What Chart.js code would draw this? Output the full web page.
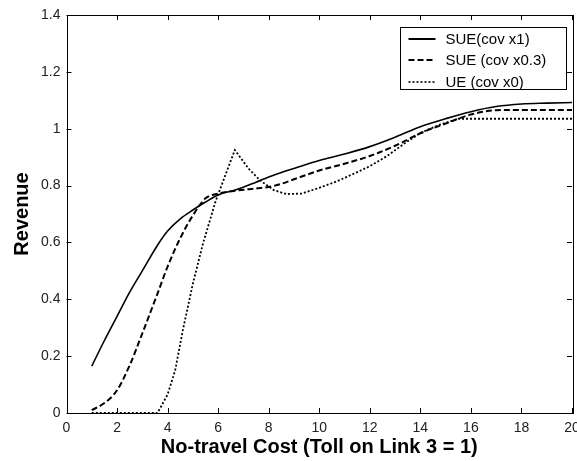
<!DOCTYPE html>
<html>
<head>
<meta charset="utf-8">
<script src="https://cdn.jsdelivr.net/npm/chart.js@4/dist/chart.umd.min.js"></script>
<style>
  html, body { margin: 0; padding: 0; background: #fff; overflow: hidden; }
  #wrap { width: 590px; height: 461px; }
</style>
</head>
<body>
<div id="wrap"><canvas id="c" width="590" height="461"></canvas></div>
<script>
// No-travel cost values (x axis) for the two SUE runs
const costs = [1, 1.5, 2, 2.5, 3, 3.6, 4, 4.5, 5, 5.5, 6, 6.7, 7.5, 8, 8.5, 9, 10, 11, 12, 13, 14, 15, 16, 17, 18, 19, 20];

// Revenue for the SUE runs
const sueCov1 = [0.165, 0.255, 0.34, 0.425, 0.50, 0.59, 0.64, 0.683, 0.714, 0.742, 0.767, 0.785, 0.812, 0.83, 0.846, 0.86, 0.888, 0.911, 0.937, 0.97, 1.007, 1.035, 1.06, 1.078, 1.087, 1.09, 1.092];
const sueCov03 = [0.01, 0.035, 0.08, 0.168, 0.28, 0.42, 0.515, 0.615, 0.695, 0.755, 0.772, 0.782, 0.79, 0.795, 0.806, 0.822, 0.853, 0.877, 0.904, 0.94, 0.984, 1.018, 1.05, 1.065, 1.066, 1.066, 1.066];

// Deterministic UE run, sampled on its own cost grid
const ueCosts = [1, 3.6, 4.0, 4.3, 4.6, 5.0, 5.4, 5.9, 6.3, 6.66, 7.2, 7.65, 8.2, 8.7, 9.3, 10, 10.7, 11.4, 12, 12.7, 13.4, 14, 14.7, 15.5, 20];
const ueCov0 = [0, 0, 0.065, 0.15, 0.29, 0.455, 0.596, 0.745, 0.84, 0.925, 0.86, 0.819, 0.784, 0.77, 0.772, 0.792, 0.815, 0.843, 0.868, 0.905, 0.95, 0.985, 1.012, 1.035, 1.035];

const seriesNames = ['SUE(cov x1)', 'SUE (cov x0.3)', 'UE (cov x0)'];

// Axis ranges and tick spacing
const xRange = [0, 20], xStep = 2;
const yRange = [0, 1.4], yStep = 0.2;

const toPoints = (xs, ys) => xs.map((x, i) => ({ x: x, y: ys[i] }));

const tickFont = { family: "'Liberation Sans Narrow', 'Liberation Sans', Arial, sans-serif", size: 14 };
const titleFont = { family: "'Liberation Sans', Arial, sans-serif", size: 20, weight: 'bold' };

// Boxed frame with inward tick marks on all four sides
const frameTicks = {
  id: 'frameTicks',
  afterDatasetsDraw(chart) {
    const { ctx, chartArea: a, scales } = chart;
    const len = 5;
    ctx.save();
    ctx.strokeStyle = '#000';
    ctx.lineWidth = 1;
    ctx.beginPath();
    scales.x.ticks.forEach(t => {
      const px = Math.round(scales.x.getPixelForValue(t.value)) + 0.5;
      ctx.moveTo(px, a.bottom); ctx.lineTo(px, a.bottom - len);
      ctx.moveTo(px, a.top); ctx.lineTo(px, a.top + len);
    });
    scales.y.ticks.forEach(t => {
      const py = Math.round(scales.y.getPixelForValue(t.value)) + 0.5;
      ctx.moveTo(a.left, py); ctx.lineTo(a.left + len, py);
      ctx.moveTo(a.right, py); ctx.lineTo(a.right - len, py);
    });
    ctx.stroke();
    ctx.strokeRect(Math.round(a.left) + 0.5, Math.round(a.top) + 0.5,
                   Math.round(a.right - a.left), Math.round(a.bottom - a.top));
    ctx.restore();
  }
};

// Boxed legend in the upper right of the plot area
const boxLegend = {
  id: 'boxLegend',
  afterDraw(chart) {
    const { ctx, chartArea: a } = chart;
    const w = 166, h = 62;
    const left = Math.round(a.right - 6 - w) + 0.5;
    const top = Math.round(a.top + 12) + 0.5;
    ctx.save();
    ctx.fillStyle = '#fff';
    ctx.fillRect(left, top, w, h);
    ctx.strokeStyle = '#000';
    ctx.lineWidth = 1;
    ctx.strokeRect(left, top, w, h);
    const rows = [11, 32.5, 54.5];
    chart.data.datasets.forEach((ds, i) => {
      const y = Math.round(top + rows[i]);
      ctx.beginPath();
      ctx.setLineDash(ds.borderDash || []);
      ctx.lineWidth = ds.legendWidth;
      ctx.strokeStyle = '#000';
      ctx.moveTo(left + 8, y); ctx.lineTo(left + 35, y);
      ctx.stroke();
      ctx.setLineDash([]);
      ctx.fillStyle = '#000';
      ctx.font = "15px 'Liberation Sans', Arial, sans-serif";
      ctx.textBaseline = 'middle';
      ctx.textAlign = 'left';
      ctx.fillText(ds.label, left + 45, y + 1);
    });
    ctx.restore();
  }
};

new Chart(document.getElementById('c'), {
  type: 'line',
  data: {
    datasets: [
      { label: seriesNames[0], data: toPoints(costs, sueCov1), borderColor: '#000', borderWidth: 1.6, legendWidth: 2,
        cubicInterpolationMode: 'monotone' },
      { label: seriesNames[1], data: toPoints(costs, sueCov03), borderColor: '#000', borderWidth: 2, borderDash: [6, 3], legendWidth: 2,
        cubicInterpolationMode: 'monotone' },
      { label: seriesNames[2], data: toPoints(ueCosts, ueCov0), borderColor: '#000', borderWidth: 1.8, borderDash: [2, 2], legendWidth: 1.6,
        tension: 0 }
    ]
  },
  options: {
    responsive: false,
    animation: false,
    devicePixelRatio: 1,
    layout: { padding: { left: 0, top: 15, right: 18, bottom: 0 } },
    elements: {
      point: { radius: 0, hoverRadius: 0 },
      line: { fill: false }
    },
    plugins: { legend: { display: false }, tooltip: { enabled: false } },
    scales: {
      x: {
        type: 'linear', min: xRange[0], max: xRange[1],
        ticks: { stepSize: xStep, color: '#222', font: tickFont, padding: 7, maxRotation: 0 },
        grid: { drawOnChartArea: false, drawTicks: false },
        border: { display: false },
        title: { display: true, text: 'No-travel Cost (Toll on Link 3 = 1)', color: '#000', font: titleFont, padding: { top: 0, bottom: 2 } },
        afterFit(s) { s.height = 48; }
      },
      y: {
        type: 'linear', min: yRange[0], max: yRange[1],
        ticks: { stepSize: yStep, color: '#222', font: tickFont, padding: 6,
                 callback: v => String(+v.toFixed(1)) },
        grid: { drawOnChartArea: false, drawTicks: false },
        border: { display: false },
        title: { display: true, text: 'Revenue', color: '#000', font: titleFont, padding: { top: 10, bottom: 0 } },
        afterFit(s) { s.width = 66.5; }
      }
    }
  },
  plugins: [frameTicks, boxLegend]
});
</script>
</body>
</html>
